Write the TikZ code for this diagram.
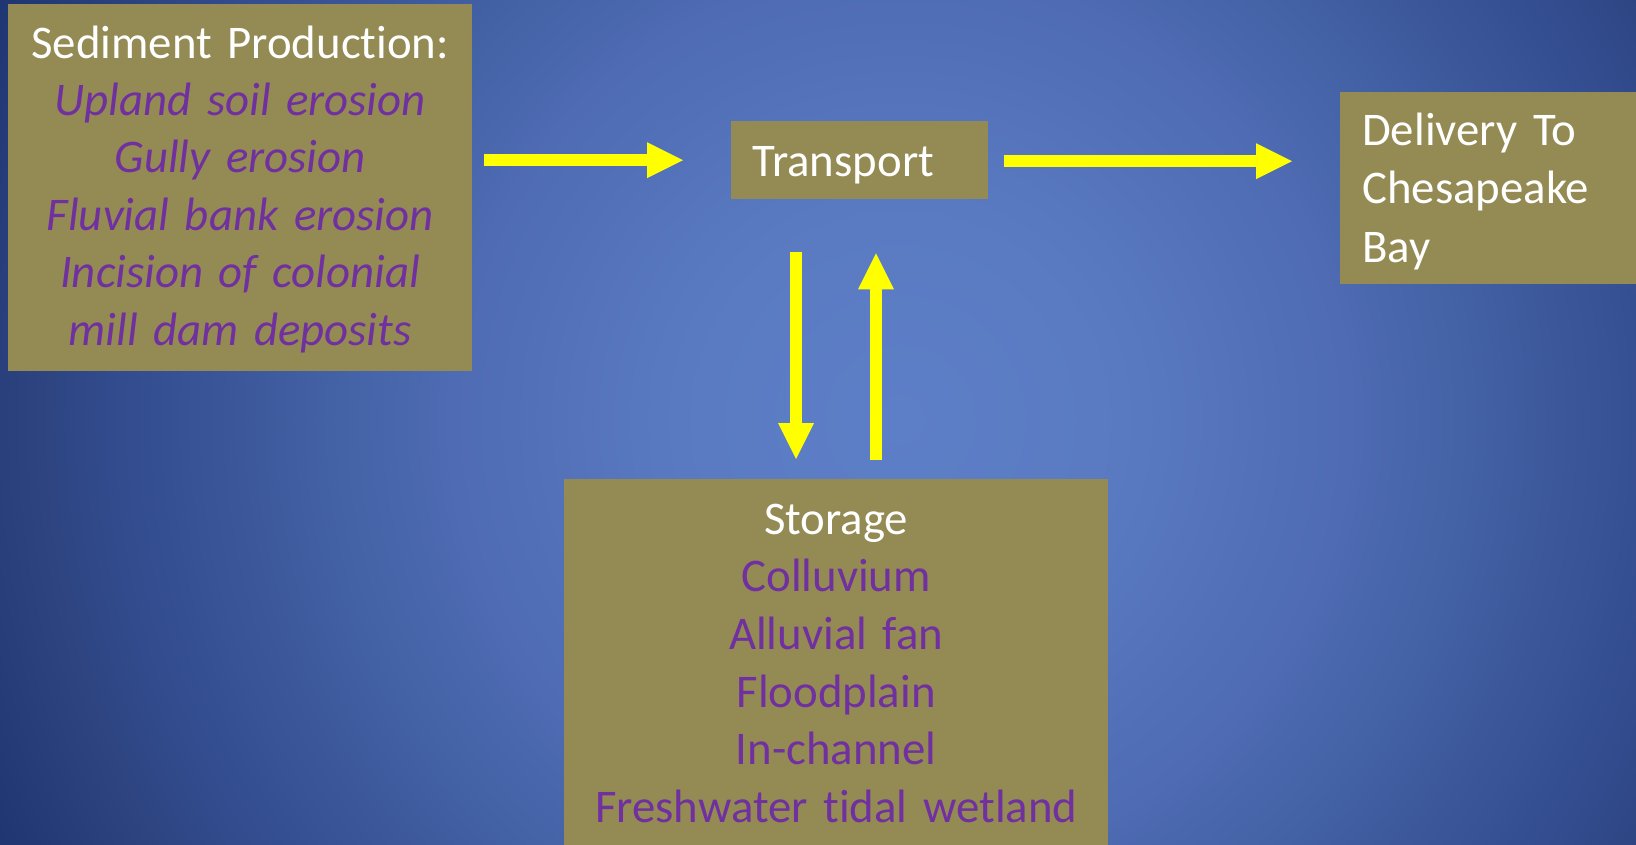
\documentclass[tikz,border=0pt]{standalone}
\usepackage{fontspec}
\setmainfont{Carlito}[Ligatures={NoCommon,NoContextual,NoRare}]
\newcommand{\tibreak}{t\kern0pt i}
\usetikzlibrary{arrows.meta,calc}
\definecolor{boxfill}{HTML}{948A54}
\definecolor{purp}{HTML}{7030A0}
\definecolor{arrowyellow}{HTML}{FFFF00}
\definecolor{bgA}{HTML}{5D7FC7}
\definecolor{bgB}{HTML}{5A7BC2}
\definecolor{bgC}{HTML}{4E6BB3}
\definecolor{bgD}{HTML}{4462A6}
\definecolor{bgE}{HTML}{324C8E}
\definecolor{bgF}{HTML}{2E4582}
\definecolor{bgG}{HTML}{1F3571}
\pgfdeclareradialshading{slidebg}{\pgfpoint{0bp}{0bp}}{%
  color(0bp)=(bgA); color(5bp)=(bgB); color(11.25bp)=(bgC);
  color(14bp)=(bgD); color(19.5bp)=(bgE); color(21.25bp)=(bgF);
  color(25bp)=(bgG); color(50bp)=(bgG)}
\tikzset{
  box/.style={fill=boxfill, draw=none, inner xsep=0pt, anchor=north west,
    font=\fontsize{46.8}{57.5}\selectfont},
  flow/.style={draw=arrowyellow, line width=12pt,
    -{Triangle[length=36pt,width=36pt,line width=0pt]}},
}
\begin{document}
\begin{tikzpicture}[x=1pt,y=-1pt]
\useasboundingbox (0,0) rectangle (1636,845);
\begin{scope}
  \clip (0,0) rectangle (1636,845);
  \shade[shading=slidebg] (-100,-580) rectangle (1900,1420);
\end{scope}

% boxes
\node[box, text width=464pt, align=center, inner ysep=18.5pt, text height=35.5pt,
      text=purp, font=\fontsize{46.8}{57.4}\selectfont\itshape] (prod) at (8,4)
  {{\upshape\color{white}Sediment Produc\tibreak on:}\\
   Upland soil erosion\\
   Gully erosion\\
   Fluvial bank erosion\\
   Incision of colonial\\
   mill dam deposits};

\node[box, text width=215pt, align=left, inner xsep=21pt, inner ysep=0pt,
      minimum height=78pt, text height=42pt, text depth=10pt, text=white] (transport) at (731,121)
  {Transport};

\node[box, text width=256pt, align=left, inner xsep=22pt, inner ysep=14pt,
      text height=39pt, text=white, font=\fontsize{46.8}{58.5}\selectfont] (delivery) at (1340,92)
  {Delivery To\\ Chesapeake\\ Bay};

\node[box, text width=544pt, align=center, inner ysep=26pt, text height=29pt,
      text=purp, font=\fontsize{46.8}{57.6}\selectfont] (storage) at (564,479)
  {{\color{white}Storage}\\
   Colluvium\\
   Alluvial fan\\
   Floodplain\\
   In-channel\\
   Freshwater \tibreak dal wetland};

% connectors
\draw[flow] ($(prod.east |- transport.west)+(12,0)$) -- ($(transport.west)+(-48,0)$);
\draw[flow] ($(transport.east)+(16,1)$) -- ($(delivery.west |- transport.east)+(-48,1)$);
\draw[flow] ($(transport.south west)+(65,53)$) -- ($(storage.north west)+(232,-20)$);
\draw[flow] ($(storage.north west)+(312,-19)$) -- ($(transport.south west)+(145,54)$);
\end{tikzpicture}
\end{document}
